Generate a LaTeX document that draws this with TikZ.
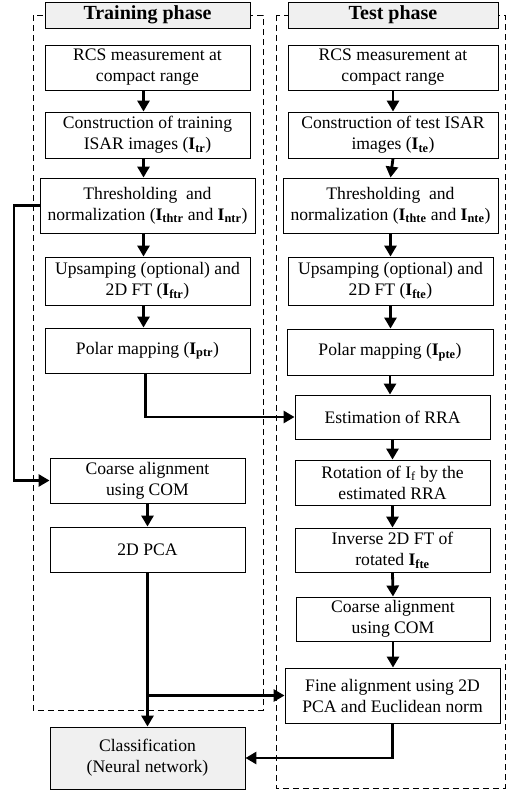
\documentclass[tikz,border=0pt]{standalone}
\usepackage{fontspec}
\setmainfont{Liberation Serif}
\usetikzlibrary{arrows.meta}
\newcommand{\Isub}[1]{\textbf{I}\textsubscript{\textbf{#1}}}
\tikzset{
  box/.style={draw, line width=0.9pt, fill=white, align=center, inner sep=0pt,
    font=\fontsize{17.6}{21}\selectfont},
  hdr/.style={box, fill=black!6, font=\fontsize{20}{22}\selectfont\bfseries},
  cls/.style={box, fill=black!6},
  conn/.style={line width=2.8pt, -{Triangle[length=11pt,width=12pt]}},
  frame/.style={draw, line width=0.8pt, dash pattern=on 6pt off 4pt},
}
\begin{document}
\begin{tikzpicture}[x=1pt,y=-1pt]
\useasboundingbox (0,0) rectangle (507,790);
% containers
\draw[frame] (33,15) rectangle (263,710);
\draw[frame] (276,15) rectangle (505,788);
% left column
\node[hdr, minimum width=205, minimum height=26] (hTr) at (147.5,15) {Training phase};
\node[box, minimum width=205, minimum height=45] (L1) at (147.5,67.5) {RCS measurement at\\compact range};
\node[box, minimum width=205, minimum height=46] (L2) at (147.5,135) {Construction of training\\ISAR images (\Isub{tr})};
\node[box, minimum width=215, minimum height=55] (L3) at (147.5,205.5) {Thresholding\ \ and\\normalization (\Isub{thtr} and \Isub{ntr})};
\node[box, minimum width=205, minimum height=48] (L4) at (147.5,281) {Upsamping (optional) and\\2D FT (\Isub{ftr})};
\node[box, minimum width=205, minimum height=45] (L5) at (147.5,350.5) {Polar mapping (\Isub{ptr})};
\node[box, minimum width=195, minimum height=45] (L6) at (147.5,480.5) {Coarse alignment\\using COM};
\node[box, minimum width=195, minimum height=45] (L7) at (147.5,549.5) {2D PCA};
\node[cls, minimum width=195, minimum height=62] (L8) at (147.5,758) {Classification\\(Neural network)};
% right column
\node[hdr, minimum width=210, minimum height=26] (hTe) at (393,15) {Test phase};
\node[box, minimum width=210, minimum height=45] (R1) at (393,67.5) {RCS measurement at\\compact range};
\node[box, minimum width=210, minimum height=46] (R2) at (393,135) {Construction of test ISAR\\images (\Isub{te})};
\node[box, minimum width=215, minimum height=55] (R3) at (390.5,205.5) {Thresholding\ \ and\\normalization (\Isub{thte} and \Isub{nte})};
\node[box, minimum width=205, minimum height=48] (R4) at (390.5,281) {Upsamping (optional) and\\2D FT (\Isub{fte})};
\node[box, minimum width=206, minimum height=46] (R5) at (390,352) {Polar mapping (\Isub{pte})};
\node[box, minimum width=195, minimum height=44] (R6) at (392.5,417) {Estimation of RRA};
\node[box, minimum width=195, minimum height=45] (R7) at (392.5,482.5) {Rotation of I\textsubscript{f} by the\\estimated RRA};
\node[box, minimum width=195, minimum height=44] (R8) at (392.5,550) {Inverse 2D FT of\\rotated \Isub{fte}};
\node[box, minimum width=194, minimum height=44] (R9) at (393,619) {Coarse alignment\\using COM};
\node[box, minimum width=215, minimum height=55] (R10) at (392.5,695.5) {Fine alignment using 2D\\PCA and Euclidean norm};
% left arrows
\draw[conn] ([xshift=-4pt]L1.south) -- ([xshift=-4pt]L2.north);
\draw[conn] ([xshift=-4pt]L2.south) -- ([xshift=-4pt]L3.north);
\draw[conn] ([xshift=-4pt]L3.south) -- ([xshift=-4pt]L4.north);
\draw[conn] ([xshift=-4pt]L4.south) -- ([xshift=-4pt]L5.north);
\draw[conn] (L6.south) -- (L7.north);
\draw[conn] (L7.south) -- (L8.north);
% right arrows
\draw[conn] (R1.south) -- (R2.north);
\draw[conn] (R2.south) -- (R3.north);
\draw[conn] (R3.south) -- (R3.south |- R4.north);
\draw[conn] (R4.south) -- (R4.south |- R5.north);
\draw[conn] (R5.south) -- (R5.south |- R6.north);
\draw[conn] (R6.south) -- (R7.north);
\draw[conn] (R7.south) -- (R8.north);
\draw[conn] (R8.south) -- (R9.north);
\draw[conn] (R9.south) -- (R9.south |- R10.north);
% cross connectors
\coordinate (bendA) at (14,205.5);
\draw[conn] (L3.west) -- (bendA) |- (L6.west);
\draw[conn] ([xshift=-2pt]L5.south) |- (R6.west);
\draw[conn] (L7.south |- R10.west) -- (R10.west);
\draw[conn] (R10.south) |- (L8.east);
\end{tikzpicture}
\end{document}
